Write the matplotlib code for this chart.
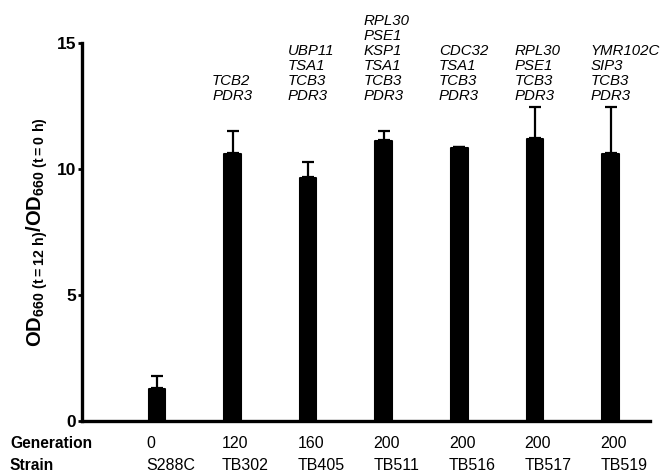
import numpy as np
import matplotlib
matplotlib.use('Agg')
import matplotlib.pyplot as plt
from matplotlib.transforms import blended_transform_factory

plt.rcParams['font.family'] = ['Liberation Sans', 'DejaVu Sans']
plt.rcParams['mathtext.fontset'] = 'custom'
plt.rcParams['mathtext.rm'] = 'Liberation Sans'
plt.rcParams['mathtext.bf'] = 'Liberation Sans:bold'

# data
strains = ['S288C', 'TB302', 'TB405', 'TB511', 'TB516', 'TB517', 'TB519']
generations = ['0', '120', '160', '200', '200', '200', '200']
od_ratio = [1.3, 10.63, 9.68, 11.15, 10.87, 11.23, 10.63]
od_err = [0.5, 0.87, 0.6, 0.36, 0.0, 1.23, 1.83]
mutations = [
    [],
    ['TCB2', 'PDR3'],
    ['UBP11', 'TSA1', 'TCB3', 'PDR3'],
    ['RPL30', 'PSE1', 'KSP1', 'TSA1', 'TCB3', 'PDR3'],
    ['CDC32', 'TSA1', 'TCB3', 'PDR3'],
    ['RPL30', 'PSE1', 'TCB3', 'PDR3'],
    ['YMR102C', 'SIP3', 'TCB3', 'PDR3'],
]

fig = plt.figure(figsize=(6.64, 4.75), dpi=100)
ax = fig.add_axes([0.1235, 0.1137, 0.8555, 0.7958])

x = np.arange(len(strains))
bar_w = 0.24
bars = ax.bar(x, np.array(od_ratio) - 0.04, width=bar_w - 0.02, color='black',
              edgecolor='black', linewidth=1.5, zorder=2)
for b in bars:
    b.set_joinstyle('round')
ax.errorbar(x, od_ratio, yerr=[np.zeros(len(od_err)), od_err], fmt='none',
            ecolor='black', elinewidth=1.6, capsize=4.3, capthick=1.6, zorder=1)

ax.set_xlim(-0.99, 6.52)
ax.set_ylim(0, 15)
ax.set_yticks([0, 5, 10, 15])
ax.set_xticks([])
for lab in ax.get_yticklabels():
    lab.set_fontweight('bold')
ax.tick_params(axis='y', labelsize=12.5, length=3, width=2, pad=1)
for side in ['top', 'right']:
    ax.spines[side].set_visible(False)
for side in ['left', 'bottom']:
    ax.spines[side].set_linewidth(2.4)

ax.set_ylabel(r'$\mathbf{OD_{660\ (t{=}12\ h)}/OD_{660\ (t{=}0\ h)}}$', fontsize=14.5, labelpad=5)

# mutated genes above each bar, one line per gene
line_step = 0.595
for i, genes in enumerate(mutations):
    for k, g in enumerate(reversed(genes)):
        ax.text(x[i] - 0.27, 12.72 + k * line_step, g, fontsize=10.8, style='italic',
                ha='left', va='baseline', clip_on=False)

# generation / strain rows under the axis
trans = blended_transform_factory(ax.transData, fig.transFigure)
fig.text(0.015, 0.067, 'Generation', fontsize=11.2, fontweight='bold', va='center')
fig.text(0.015, 0.019, 'Strain', fontsize=11.2, fontweight='bold', va='center')
for i in range(len(strains)):
    ax.text(x[i] - bar_w / 2 - 0.02, 0.067, generations[i], fontsize=11.5,
            transform=trans, ha='left', va='center')
    ax.text(x[i] - bar_w / 2 - 0.02, 0.019, strains[i], fontsize=11.5,
            transform=trans, ha='left', va='center')

fig.savefig('out.png', dpi=100)
